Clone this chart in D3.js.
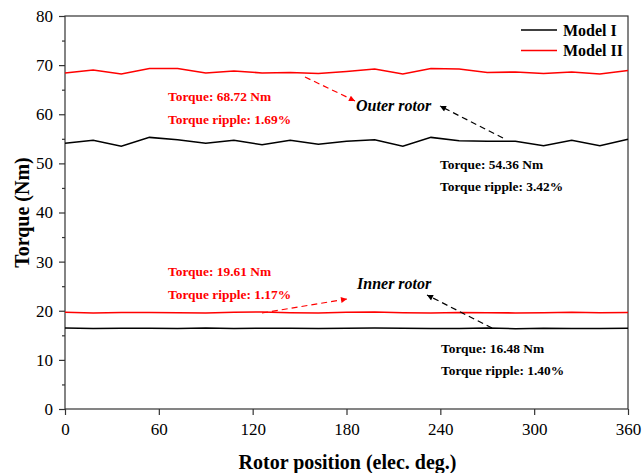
<!DOCTYPE html>
<html>
<head>
<meta charset="utf-8">
<script src="https://cdn.jsdelivr.net/npm/d3@7"></script>
<style>
  body { margin: 0; background: #fff; }
  text { font-family: "Liberation Serif", "Times New Roman", serif; }
</style>
</head>
<body>
<svg id="canvas"></svg>
<script>
const angles = d3.range(0, 361, 18);
const outerModelI = [54.1, 54.7, 53.5, 55.3, 54.8, 54.1, 54.7, 53.8, 54.7, 53.9, 54.5, 54.8, 53.5, 55.3, 54.6, 54.5, 54.5, 53.6, 54.7, 53.6, 54.9];
const outerModelII = [68.4, 69.0, 68.2, 69.3, 69.3, 68.4, 68.8, 68.4, 68.5, 68.3, 68.7, 69.2, 68.2, 69.3, 69.2, 68.5, 68.6, 68.3, 68.6, 68.2, 68.9];
const innerModelI = [16.5, 16.4, 16.45, 16.45, 16.4, 16.5, 16.4, 16.45, 16.45, 16.4, 16.45, 16.5, 16.45, 16.4, 16.4, 16.5, 16.35, 16.45, 16.4, 16.4, 16.45];
const innerModelII = [19.7, 19.55, 19.65, 19.65, 19.6, 19.55, 19.7, 19.75, 19.6, 19.55, 19.7, 19.75, 19.6, 19.55, 19.65, 19.6, 19.55, 19.6, 19.7, 19.6, 19.65];
const xTicks = [0, 60, 120, 180, 240, 300, 360];
const yTicks = [0, 10, 20, 30, 40, 50, 60, 70, 80];

const width = 642, height = 473;
const plotLeft = 65, plotRight = 628, plotTop = 16, plotBottom = 409;

const svg = d3.select("#canvas").attr("width", width).attr("height", height);

const x = d3.scaleLinear().domain([0, 360]).range([plotLeft, plotRight]);
const y = d3.scaleLinear().domain([0, 80]).range([plotBottom, plotTop]);

// frame
svg.append("rect")
    .attr("x", plotLeft).attr("y", plotTop)
    .attr("width", plotRight - plotLeft).attr("height", plotBottom - plotTop)
    .attr("fill", "none").attr("stroke", "#333").attr("stroke-width", 1.2);

// y axis
const yAxis = svg.append("g").attr("transform", `translate(${plotLeft},0)`)
    .call(d3.axisLeft(y).tickValues(yTicks).tickSize(6).tickPadding(6));
yAxis.selectAll("line").attr("stroke", "#333").attr("stroke-width", 1.2);
yAxis.selectAll(".domain").remove();
yAxis.selectAll("text").attr("font-size", 17).attr("fill", "#000")
    .style("font-family", "Liberation Serif");
svg.append("g").attr("transform", `translate(${plotLeft},0)`)
    .call(d3.axisLeft(y).tickValues(d3.range(5, 80, 10)).tickSize(3).tickFormat(""))
    .call(g => g.select(".domain").remove())
    .selectAll("line").attr("stroke", "#333").attr("stroke-width", 1.2);

// x axis
const xAxis = svg.append("g").attr("transform", `translate(0,${plotBottom})`)
    .call(d3.axisBottom(x).tickValues(xTicks).tickSize(6).tickPadding(8));
xAxis.selectAll("line").attr("stroke", "#333").attr("stroke-width", 1.2);
xAxis.selectAll(".domain").remove();
xAxis.selectAll("text").attr("font-size", 17).attr("fill", "#000")
    .style("font-family", "Liberation Serif");

// axis titles
svg.append("text")
    .attr("x", (plotLeft + plotRight) / 2 + 1).attr("y", 469)
    .attr("text-anchor", "middle").attr("font-size", 20).attr("font-weight", "bold")
    .text("Rotor position (elec. deg.)");
svg.append("text")
    .attr("transform", `translate(29,${(plotTop + plotBottom) / 2}) rotate(-90)`)
    .attr("text-anchor", "middle").attr("font-size", 20).attr("font-weight", "bold")
    .text("Torque (Nm)");

// series
const line = d3.line().x((d, i) => x(angles[i])).y(d => y(d));
const series = [
    { data: outerModelI, color: "#000" },
    { data: outerModelII, color: "#ff0000" },
    { data: innerModelI, color: "#000" },
    { data: innerModelII, color: "#ff0000" }
];
svg.selectAll(".series")
    .data(series)
    .enter()
    .append("path")
    .attr("class", "series")
    .attr("d", d => line(d.data))
    .attr("fill", "none")
    .attr("stroke", d => d.color)
    .attr("stroke-width", 1.6);

// legend
const legend = [{ name: "Model I", color: "#000" }, { name: "Model II", color: "#ff0000" }];
legend.forEach((d, i) => {
    const ly = 30 + i * 20.5;
    svg.append("line").attr("x1", 521).attr("x2", 557).attr("y1", ly).attr("y2", ly)
        .attr("stroke", d.color).attr("stroke-width", 1.6);
    svg.append("text").attr("x", 563).attr("y", ly + 5.5)
        .attr("font-size", 16).attr("font-weight", "bold").text(d.name);
});

// arrowheads
const defs = svg.append("defs");
["#ff0000", "#000"].forEach((c, i) => {
    defs.append("marker")
        .attr("id", "arrow" + i)
        .attr("viewBox", "0 0 10 10")
        .attr("refX", 10).attr("refY", 5)
        .attr("markerWidth", 8).attr("markerHeight", 6)
        .attr("orient", "auto")
        .attr("markerUnits", "userSpaceOnUse")
        .append("path").attr("d", "M0,0 L10,5 L0,10 z").attr("fill", c);
});

function arrow(x1, y1, x2, y2, idx, color) {
    svg.append("line")
        .attr("x1", x1).attr("y1", y1).attr("x2", x2).attr("y2", y2)
        .attr("stroke", color).attr("stroke-width", 1.2)
        .attr("stroke-dasharray", "6,4")
        .attr("marker-end", `url(#arrow${idx})`);
}

function label(tx, ty, str, color, size, italic) {
    svg.append("text").attr("x", tx).attr("y", ty)
        .attr("fill", color).attr("font-size", size).attr("font-weight", "bold")
        .attr("font-style", italic ? "italic" : "normal")
        .text(str);
}

// outer rotor annotations
label(168, 100.5, "Torque: 68.72 Nm", "#ff0000", 13.4);
label(168, 123.5, "Torque ripple: 1.69%", "#ff0000", 13.4);
arrow(305, 77, 355, 101, 0, "#ff0000");
label(356, 111, "Outer rotor", "#000", 16, true);
arrow(503, 138, 440, 106, 1, "#000");
label(440, 168.5, "Torque: 54.36 Nm", "#000", 13.4);
label(440, 190.5, "Torque ripple: 3.42%", "#000", 13.4);

// inner rotor annotations
label(168, 275.5, "Torque: 19.61 Nm", "#ff0000", 13.4);
label(168, 298.5, "Torque ripple: 1.17%", "#ff0000", 13.4);
arrow(262, 313, 347, 299, 0, "#ff0000");
label(357, 288.5, "Inner rotor", "#000", 16, true);
arrow(492, 328, 427, 295, 1, "#000");
label(441, 352.5, "Torque: 16.48 Nm", "#000", 13.4);
label(441, 375, "Torque ripple: 1.40%", "#000", 13.4);
</script>
</body>
</html>
